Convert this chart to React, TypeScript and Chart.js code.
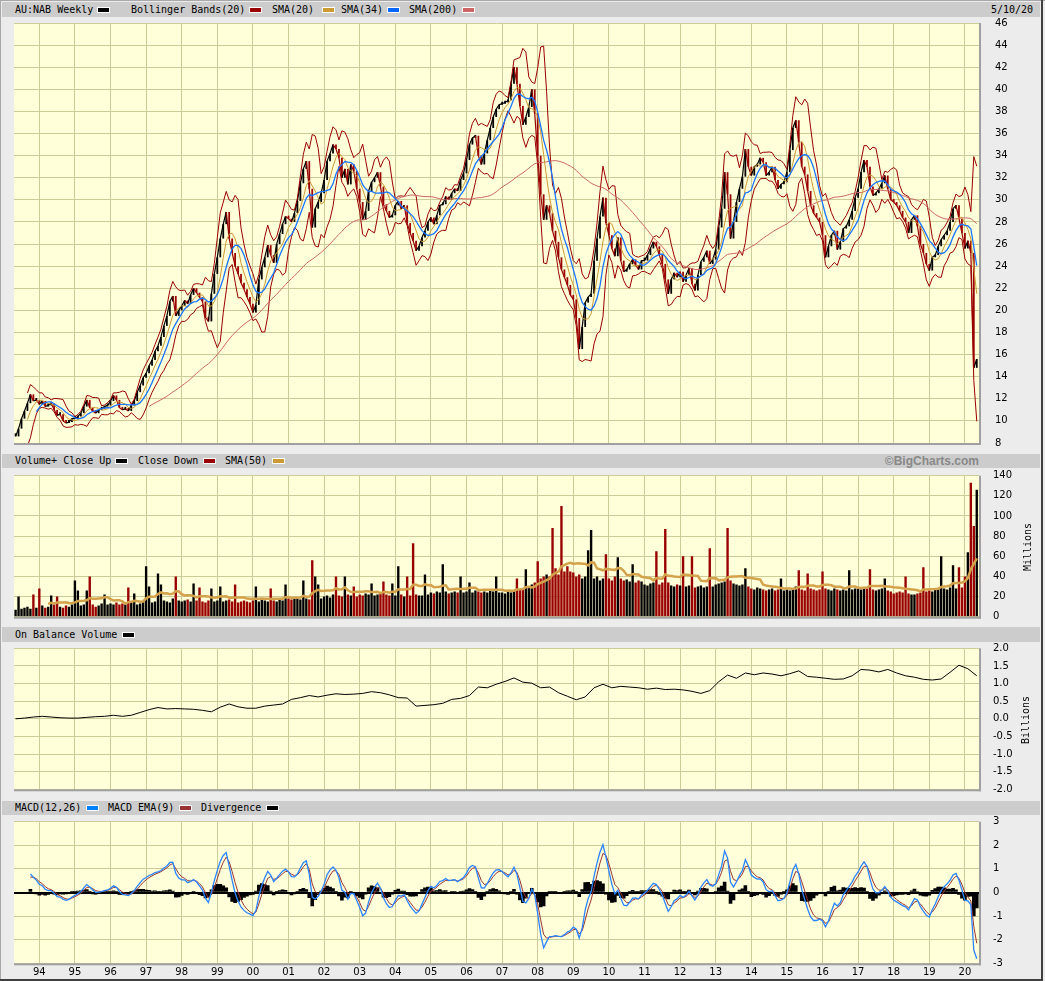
import React, { useEffect, useRef } from 'react';
import { Chart, registerables } from 'chart.js';

Chart.register(...registerables);

// ---------------- data ----------------
// Monthly closes (AUD), first value = May 1993, last = May 2020
const FIRST_MONTH = 1993 + 4 / 12;
const closes: number[] = [
  8.6, 9.3, 10.2, 10.9, 11.6, 12.4, 11.8, 11.9,
  11.5, 11.8, 11.3, 11.4, 11.6, 11.0, 10.5, 10.6, 10.0, 9.8, 9.9, 10.2,
  10.2, 10.4, 10.7, 11.3, 11.9, 11.2, 10.9, 10.7, 11.0, 11.1, 11.3, 11.4,
  11.8, 12.3, 11.9, 11.2, 11.0, 11.1, 10.9, 11.4, 11.8, 12.6, 13.2, 13.9,
  14.3, 15.0, 15.5, 16.3, 16.8, 17.6, 18.6, 19.5, 20.8, 21.3, 19.5, 20.0,
  20.4, 20.9, 20.6, 21.4, 22.0, 21.6, 21.2, 20.8, 19.4, 19.0, 21.5, 23.3,
  24.8, 26.5, 27.8, 28.9, 26.5, 25.2, 24.0, 23.3, 22.5, 21.9, 21.2, 20.6,
  19.8, 20.5, 22.8, 23.9, 24.8, 25.9, 25.0, 24.3, 26.0, 26.9, 27.8, 28.5,
  28.3, 28.0, 28.8, 29.9, 31.5, 32.8, 33.5, 31.0, 27.5, 29.2, 29.8, 30.6,
  31.8, 33.5, 34.2, 35.0, 34.6, 33.8, 32.0, 32.8, 31.4, 33.2, 32.6, 31.0,
  29.8, 28.2, 29.0, 30.8, 31.6, 32.0, 32.5, 31.2, 29.6, 29.0, 28.4, 28.6,
  29.5, 29.9, 29.2, 29.5, 27.9, 27.0, 26.3, 25.4, 25.8, 26.6, 27.2, 28.0,
  28.4, 27.8, 28.6, 29.5, 29.6, 30.3, 30.0, 30.6, 31.0, 30.8, 31.8, 32.4,
  33.6, 35.0, 35.6, 35.8, 34.0, 33.2, 34.2, 35.4, 36.5, 37.5, 38.2, 38.6,
  38.7, 38.8, 39.0, 40.5, 42.0, 40.5, 38.5, 36.8, 37.5, 38.4, 40.0, 37.8,
  34.0, 30.5, 28.2, 29.5, 28.8, 27.2, 26.2, 24.8, 23.7, 23.0, 22.3, 21.4,
  21.0, 19.3, 16.5, 18.5, 20.7, 21.2, 21.5, 24.5, 26.5, 28.5, 30.2, 27.9,
  26.8, 25.6, 24.9, 26.6, 24.5, 23.5, 23.7, 24.2, 24.6, 24.1, 23.7, 24.5,
  24.5, 25.0, 25.6, 26.2, 25.8, 25.0, 24.2, 22.8, 21.5, 22.8, 23.4, 23.0,
  23.5, 22.6, 23.2, 23.8, 22.4, 21.8, 23.2, 24.4, 24.8, 25.4, 24.2, 24.6,
  25.5, 27.5, 29.2, 32.5, 30.5, 26.5, 28.0, 29.8, 31.0, 32.1, 34.6, 33.0,
  32.2, 33.0, 33.2, 33.8, 33.4, 32.2, 32.5, 33.0, 31.8, 31.0, 31.4, 31.6,
  32.5, 34.5, 36.5, 37.2, 35.2, 33.0, 32.3, 30.8, 29.5, 28.8, 28.4, 28.0,
  26.8, 24.8, 25.8, 26.8, 27.2, 25.5, 26.2, 27.4, 27.6, 28.2, 29.0, 30.2,
  31.0, 32.5, 33.6, 33.0, 31.2, 30.4, 30.6, 31.0, 31.5, 32.2, 31.0, 30.0,
  29.8, 29.5, 29.0, 28.4, 28.0, 27.0, 28.2, 28.6, 27.6, 26.0, 25.2, 24.2,
  23.6, 24.8, 25.0, 25.8, 26.4, 26.8, 27.2, 28.0, 29.2, 29.5, 28.3, 27.0,
  25.6, 26.3, 25.2, 14.8, 15.6,
];

// Weekly-scale volume per month (millions)
const volumes: number[] = [
  7, 20, 8, 9, 10, 8, 22, 9,
  28, 11, 9, 10, 21, 12, 20, 10, 9, 11, 10, 12,
  36, 26, 11, 12, 26, 40, 12, 10, 11, 13, 22, 12,
  13, 12, 14, 12, 13, 12, 29, 14, 23, 12, 13, 15,
  50, 30, 14, 15, 43, 32, 16, 15, 14, 18, 40, 16,
  15, 16, 17, 15, 33, 16, 29, 15, 14, 16, 28, 15,
  16, 30, 15, 16, 17, 15, 32, 14, 15, 16, 15, 14,
  16, 30, 15, 17, 16, 15, 28, 16, 15, 17, 16, 32,
  18, 17, 19, 18, 17, 36, 18, 17, 56, 40, 32, 18,
  20, 21, 19, 22, 40, 21, 20, 40, 22, 21, 30, 20,
  22, 21, 23, 22, 33, 21, 22, 23, 35, 22, 21, 33,
  21, 50, 22, 20, 40, 21, 73, 22, 21, 21, 42, 22,
  24, 23, 25, 24, 52, 25, 23, 24, 25, 24, 40, 24,
  25, 34, 24, 26, 25, 24, 25, 24, 26, 25, 40, 24,
  24, 23, 25, 24, 26, 38, 27, 28, 47, 30, 32, 34,
  55, 38, 40, 42, 40, 88, 48, 42, 110, 45, 50, 45,
  44, 40, 42, 38, 40, 66, 86, 38, 40, 36, 38, 62,
  38, 36, 40, 59, 38, 36, 37, 35, 52, 34, 36, 35,
  32, 31, 33, 34, 65, 32, 34, 87, 34, 31, 30, 32,
  31, 60, 30, 31, 60, 29, 30, 31, 29, 30, 68, 30,
  32, 33, 34, 35, 88, 36, 33, 32, 31, 32, 48, 30,
  28, 27, 29, 28, 27, 26, 27, 28, 26, 27, 38, 26,
  27, 26, 28, 30, 46, 27, 26, 43, 28, 27, 26, 27,
  45, 28, 27, 26, 28, 27, 26, 27, 26, 46, 27, 28,
  28, 27, 29, 28, 47, 27, 26, 27, 28, 38, 26, 25,
  23, 24, 25, 24, 40, 23, 22, 22, 23, 24, 49, 25,
  26, 25, 27, 28, 60, 28, 27, 29, 51, 28, 49, 29,
  40, 64, 133, 90, 126,
];

// On Balance Volume, quarterly samples (billions)
const OBV_FIRST = 1993 + 4 / 12;
const OBV_STEP = 0.25;
const obv: number[] = [
  0.0, 0.02, 0.05,
  0.07, 0.05, 0.03, 0.02,
  0.02, 0.04, 0.06, 0.07,
  0.1, 0.07, 0.1, 0.18,
  0.26, 0.32, 0.28, 0.29,
  0.28, 0.27, 0.24, 0.2,
  0.33, 0.42, 0.34, 0.3,
  0.3, 0.36, 0.39, 0.42,
  0.55, 0.6, 0.66, 0.62,
  0.67, 0.71, 0.69, 0.7,
  0.72, 0.77, 0.74, 0.68,
  0.6, 0.59, 0.36, 0.38,
  0.4, 0.44, 0.55, 0.58,
  0.66, 0.9, 0.88, 0.98,
  1.06, 1.16, 1.04, 1.01,
  0.88, 0.9, 0.74, 0.64,
  0.54, 0.62, 0.88, 0.98,
  0.88, 0.92, 0.9, 0.88,
  0.84, 0.87, 0.83, 0.84,
  0.82, 0.78, 0.72, 0.8,
  1.05, 1.24, 1.15, 1.3,
  1.25, 1.3, 1.27, 1.22,
  1.28, 1.36, 1.2, 1.18,
  1.15, 1.12, 1.13, 1.22,
  1.4, 1.38, 1.33, 1.4,
  1.3, 1.22, 1.18, 1.12,
  1.1, 1.13, 1.32, 1.52,
  1.42, 1.22,
];

const yearTicks = [1994, 1995, 1996, 1997, 1998, 1999, 2000, 2001, 2002, 2003, 2004, 2005, 2006, 2007, 2008, 2009, 2010, 2011, 2012, 2013, 2014, 2015, 2016, 2017, 2018, 2019, 2020];
const yearLabels = ['94', '95', '96', '97', '98', '99', '00', '01', '02', '03', '04', '05', '06', '07', '08', '09', '10', '11', '12', '13', '14', '15', '16', '17', '18', '19', '20'];
const priceTicks = [8, 10, 12, 14, 16, 18, 20, 22, 24, 26, 28, 30, 32, 34, 36, 38, 40, 42, 44, 46];
const volumeTicks = [0, 20, 40, 60, 80, 100, 120, 140];
const obvTicks = [-2, -1.5, -1, -0.5, 0, 0.5, 1, 1.5, 2];
const macdTicks = [-3, -2, -1, 0, 1, 2, 3];

// indicator periods (weeks) converted to the monthly samples
const WEEKS_PER_MONTH = 52 / 12;
const BB_MONTHS = 5;      // 20 weeks
const SMA34_MONTHS = 8;   // 34 weeks
const SMA200_MONTHS = 46; // 200 weeks
const VSMA_MONTHS = 12;   // 50 weeks

// ---------------- styling ----------------
const X_MIN = 1993.289;
const X_MAX = 2020.396;
const UP = '#000000';
const DOWN = '#990000';
const GRID = '#cccc99';
const PLOT_BG = '#ffffd9';
const TICK_FONT = { family: "'DejaVu Sans', sans-serif", size: 10 };
const HEAD_FONT = "10px 'DejaVu Sans Mono', monospace";

// ---------------- helpers ----------------
const monthX = (i: number) => FIRST_MONTH + i / 12;
const mean = (a: number[]) => a.reduce((s, v) => s + v, 0) / a.length;
function sma(a: number[], n: number): (number | null)[] {
  return a.map((_, i) => (i < n - 1 ? null : mean(a.slice(i - n + 1, i + 1))));
}
function band(a: number[], n: number, k: number): (number | null)[] {
  return a.map((_, i) => {
    if (i < n - 1) return null;
    const w = a.slice(i - n + 1, i + 1);
    const m = mean(w);
    const sd = Math.sqrt(w.reduce((s, v) => s + (v - m) * (v - m), 0) / (n - 1));
    return m + k * sd;
  });
}
// EMA of a weekly period, with its lag matched on monthly samples
function ema(a: number[], weeks: number): number[] {
  const alpha = 1 / (1 + (weeks - 1) / (2 * WEEKS_PER_MONTH));
  let e = a[0];
  return a.map((v, i) => (i === 0 ? e : (e = alpha * v + (1 - alpha) * e)));
}
const pts = (arr: (number | null)[], xf: (i: number) => number = monthX) => arr.map((y, i) => ({ x: xf(i), y }));
const isDown = (i: number) => i > 0 && closes[i] < closes[i - 1];

const upperBB = band(closes, BB_MONTHS, 2);
const lowerBB = band(closes, BB_MONTHS, -2);
const sma20 = sma(closes, BB_MONTHS);
const sma34 = sma(closes, SMA34_MONTHS);
const sma200 = sma(closes, SMA200_MONTHS);
const volSma = sma(volumes, VSMA_MONTHS);
const emaFast = ema(closes, 12);
const emaSlow = ema(closes, 26);
const macdRaw = emaFast.map((f, i) => f - emaSlow[i]);
const signalRaw = ema(macdRaw, 9);
const HIDE = 5;
const macdLine = macdRaw.map((v, i) => (i < HIDE ? null : v));
const signalLine = signalRaw.map((v, i) => (i < HIDE ? null : v));
const divergence = macdRaw.map((v, i) => (i < HIDE ? null : v - signalRaw[i]));

// ---------------- chart plumbing ----------------
const framePlugin = {
  id: 'frame',
  beforeDraw(chart: any) {
    const { ctx, chartArea: a } = chart;
    ctx.save();
    ctx.fillStyle = PLOT_BG;
    ctx.fillRect(a.left, a.top, a.right - a.left, a.bottom - a.top);
    ctx.restore();
  },
  afterDraw(chart: any) {
    const { ctx, chartArea: a } = chart;
    ctx.save();
    ctx.fillStyle = '#a0a0a0';
    ctx.fillRect(a.left, a.bottom, a.right - a.left + 2, 2);
    ctx.fillRect(a.right, a.top, 2, a.bottom - a.top + 2);
    ctx.restore();
  },
};

const noPad = (s: any) => {
  s.paddingTop = 0;
  s.paddingBottom = 0;
  s.paddingLeft = 0;
  s.paddingRight = 0;
};

function makeOptions(o: { yTicks: number[]; top: number; bottom: number; fmt: (v: number) => string; showX: boolean; tickPad: number; zero?: boolean }) {
  return {
    responsive: false,
    maintainAspectRatio: false,
    animation: false,
    devicePixelRatio: 1,
    events: [],
    layout: { autoPadding: false, padding: { left: 14, right: 0, top: o.top, bottom: o.bottom } },
    plugins: { legend: { display: false }, tooltip: { enabled: false } },
    elements: { point: { radius: 0 }, line: { tension: 0 } },
    scales: {
      x: {
        type: 'linear',
        min: X_MIN,
        max: X_MAX,
        offset: false,
        afterBuildTicks: (s: any) => { s.ticks = yearTicks.map((value) => ({ value })); },
        afterFit: (s: any) => { s.height = o.showX ? 17 : 0; noPad(s); },
        grid: { color: GRID, lineWidth: 1, drawTicks: false, offset: false },
        border: { display: false },
        ticks: {
          display: o.showX,
          padding: 3,
          autoSkip: false,
          maxRotation: 0,
          font: TICK_FONT,
          color: '#000',
          callback: (v: any) => yearLabels[yearTicks.indexOf(Number(v))] ?? '',
        },
      },
      y: {
        type: 'linear',
        position: 'right',
        min: o.yTicks[0],
        max: o.yTicks[o.yTicks.length - 1],
        afterBuildTicks: (s: any) => { s.ticks = o.yTicks.map((value) => ({ value })); },
        afterFit: (s: any) => { s.width = 66; noPad(s); },
        grid: {
          color: (c: any) => (o.zero && c.tick && c.tick.value === 0 ? '#000' : GRID),
          lineWidth: (c: any) => (o.zero && c.tick && c.tick.value === 0 ? 2 : 1),
          drawTicks: false,
        },
        border: { display: false },
        ticks: { padding: o.tickPad, font: TICK_FONT, color: '#000', callback: (v: any) => o.fmt(Number(v)) },
      },
    },
  };
}

function priceConfig(): any {
  return {
    type: 'line',
    data: {
      datasets: [
        { type: 'line', data: pts(sma20), borderColor: '#cc9933', borderWidth: 1, order: 2 },
        { type: 'line', data: pts(sma34), borderColor: '#1a75ff', borderWidth: 1.3, order: 1 },
        { type: 'line', data: pts(sma200), borderColor: '#cc6666', borderWidth: 1, order: 3 },
        { type: 'line', data: pts(upperBB), borderColor: '#990000', borderWidth: 1, order: 4 },
        { type: 'line', data: pts(lowerBB), borderColor: '#990000', borderWidth: 1, order: 4 },
        {
          type: 'line',
          data: pts(closes),
          borderWidth: 1.2,
          borderColor: '#000',
          segment: { borderColor: (c: any) => (c.p1.parsed.y < c.p0.parsed.y ? DOWN : UP) },
          order: 9,
        },
        {
          type: 'bar',
          data: closes.map((c, i) => ({ x: monthX(i), y: [i ? closes[i - 1] : c, c] })),
          backgroundColor: closes.map((_, i) => (isDown(i) ? DOWN : UP)),
          barPercentage: 0.6,
          categoryPercentage: 1,
          minBarLength: 3,
          grouped: false,
          order: 10,
        },
      ],
    },
    options: makeOptions({ yTicks: priceTicks, top: 15, bottom: 15, fmt: (v) => String(v), showX: false, tickPad: 16 }),
    plugins: [framePlugin],
  };
}

function volumeConfig(): any {
  return {
    type: 'line',
    data: {
      datasets: [
        { type: 'line', data: pts(volSma), borderColor: '#d4a24a', borderWidth: 2.5, order: 1 },
        {
          type: 'bar',
          data: volumes.map((v, i) => ({ x: monthX(i), y: v })),
          backgroundColor: volumes.map((_, i) => (isDown(i) ? DOWN : UP)),
          barPercentage: 0.8,
          categoryPercentage: 1,
          grouped: false,
          order: 5,
        },
      ],
    },
    options: makeOptions({ yTicks: volumeTicks, top: 15.7, bottom: 13.3, fmt: (v) => String(v), showX: false, tickPad: 14 }),
    plugins: [framePlugin],
  };
}

function obvConfig(): any {
  return {
    type: 'line',
    data: {
      datasets: [
        { type: 'line', data: pts(obv, (i) => OBV_FIRST + i * OBV_STEP), borderColor: '#000', borderWidth: 1 },
      ],
    },
    options: makeOptions({ yTicks: obvTicks, top: 15.3, bottom: 13.7, fmt: (v) => v.toFixed(1), showX: false, tickPad: 14 }),
    plugins: [framePlugin],
  };
}

function macdConfig(): any {
  return {
    type: 'line',
    data: {
      datasets: [
        { type: 'line', data: pts(signalLine), borderColor: '#993333', borderWidth: 1, order: 2 },
        { type: 'line', data: pts(macdLine), borderColor: '#2a84ff', borderWidth: 1.3, order: 1 },
        {
          type: 'bar',
          data: pts(divergence),
          backgroundColor: '#000',
          barPercentage: 1,
          categoryPercentage: 1,
          grouped: false,
          order: 5,
        },
      ],
    },
    options: makeOptions({ yTicks: macdTicks, top: 15.7, bottom: 0.7, fmt: (v) => String(v), showX: true, tickPad: 14, zero: true }),
    plugins: [framePlugin],
  };
}

function Panel({ top, height, build }: { top: number; height: number; build: () => any }) {
  const ref = useRef<HTMLCanvasElement | null>(null);
  useEffect(() => {
    if (!ref.current) return;
    const chart = new Chart(ref.current, build());
    return () => chart.destroy();
  }, []);
  return (
    <canvas
      ref={ref}
      width={1045}
      height={height}
      style={{ position: 'absolute', left: 0, top, width: 1045, height, display: 'block' }}
    />
  );
}

type HeadItem = { x: number; text?: string; swatch?: string };

function HeaderBar({ top, height, items, right }: { top: number; height: number; items: HeadItem[]; right?: React.ReactNode }) {
  return (
    <div
      style={{
        position: 'absolute',
        left: 2,
        top,
        width: 1038,
        height,
        background: '#cccccc',
        font: HEAD_FONT,
        color: '#000',
        lineHeight: `${height}px`,
        whiteSpace: 'pre',
      }}
    >
      {items.map((it, k) =>
        it.swatch ? (
          <span
            key={k}
            style={{
              position: 'absolute',
              left: it.x - 2,
              top: Math.round((height - 6) / 2),
              width: 13,
              height: 6,
              boxSizing: 'border-box',
              border: '1px solid #ffffff',
              background: it.swatch,
            }}
          />
        ) : (
          <span key={k} style={{ position: 'absolute', left: it.x - 2, top: 0 }}>
            {it.text}
          </span>
        )
      )}
      {right}
    </div>
  );
}

function VLabel({ cx, cy, text }: { cx: number; cy: number; text: string }) {
  return (
    <div
      style={{
        position: 'absolute',
        left: cx - 40,
        top: cy - 6,
        width: 80,
        height: 12,
        lineHeight: '12px',
        textAlign: 'center',
        font: HEAD_FONT,
        color: '#000',
        transform: 'rotate(-90deg)',
      }}
    >
      {text}
    </div>
  );
}

export default function App() {
  return (
    <div
      style={{
        position: 'absolute',
        left: 0,
        top: 0,
        width: 1045,
        height: 981,
        background: '#ececec',
        overflow: 'hidden',
      }}
    >
      <Panel top={8} height={450} build={priceConfig} />
      <Panel top={460} height={170} build={volumeConfig} />
      <Panel top={633} height={170} build={obvConfig} />
      <Panel top={806} height={175} build={macdConfig} />

      <HeaderBar
        top={2}
        height={15}
        items={[
          { x: 15, text: 'AU:NAB Weekly' },
          { x: 97, swatch: '#000000' },
          { x: 131, text: 'Bollinger Bands(20)' },
          { x: 249, swatch: '#990000' },
          { x: 272, text: 'SMA(20)' },
          { x: 322, swatch: '#cc9933' },
          { x: 341, text: 'SMA(34)' },
          { x: 387, swatch: '#0066ff' },
          { x: 409, text: 'SMA(200)' },
          { x: 462, swatch: '#cc6666' },
          { x: 991, text: '5/10/20' },
        ]}
      />
      <HeaderBar
        top={454}
        height={14}
        items={[
          { x: 15, text: 'Volume+ Close Up' },
          { x: 115, swatch: '#000000' },
          { x: 138, text: 'Close Down' },
          { x: 203, swatch: '#990000' },
          { x: 225, text: 'SMA(50)' },
          { x: 272, swatch: '#cc9933' },
        ]}
        right={
          <span
            style={{
              position: 'absolute',
              right: 1040 - 979,
              top: 0,
              font: "bold 12px 'Liberation Sans', Arial, sans-serif",
              color: '#888888',
            }}
          >
            ©BigCharts.com
          </span>
        }
      />
      <HeaderBar top={627} height={15} items={[{ x: 15, text: 'On Balance Volume' }, { x: 122, swatch: '#000000' }]} />
      <HeaderBar
        top={801}
        height={14}
        items={[
          { x: 15, text: 'MACD(12,26)' },
          { x: 86, swatch: '#0080ff' },
          { x: 108, text: 'MACD EMA(9)' },
          { x: 179, swatch: '#993333' },
          { x: 201, text: 'Divergence' },
          { x: 266, swatch: '#000000' },
        ]}
      />
      <VLabel cx={1028} cy={547} text="Millions" />
      <VLabel cx={1026} cy={720} text="Billions" />

      <div style={{ position: 'absolute', left: 0, top: 0, width: 1, height: 981, background: '#a8a8a8' }} />
      <div style={{ position: 'absolute', left: 0, top: 0, width: 1045, height: 1, background: '#a8a8a8' }} />
      <div style={{ position: 'absolute', left: 1041, top: 0, width: 2, height: 981, background: '#404040' }} />
      <div style={{ position: 'absolute', left: 0, top: 979, width: 1043, height: 2, background: '#404040' }} />
    </div>
  );
}
